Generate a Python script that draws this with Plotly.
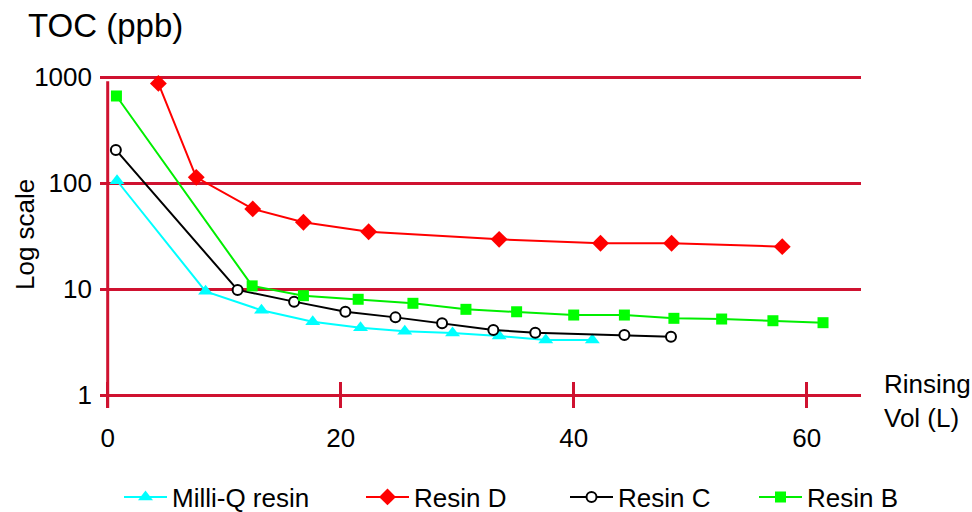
import plotly.graph_objects as go

# Rinsing volume (L) vs TOC (ppb) for each resin
milliq_x = [0.8, 8.4, 13.2, 17.6, 21.7, 25.5, 29.6, 33.6, 37.6, 41.6]
milliq_y = [105, 9.5, 6.3, 4.9, 4.3, 4.0, 3.85, 3.6, 3.3, 3.3]

resin_d_x = [4.35, 7.6, 12.45, 16.8, 22.4, 33.6, 42.3, 48.4, 57.9]
resin_d_y = [870, 113, 57, 42.6, 34.7, 29.4, 27.0, 27.0, 25.1]

resin_c_x = [0.7, 11.15, 16.0, 20.4, 24.7, 28.7, 33.1, 36.7, 44.35, 48.35]
resin_c_y = [205, 9.8, 7.6, 6.1, 5.4, 4.75, 4.1, 3.87, 3.68, 3.55]

resin_b_x = [0.75, 12.4, 16.8, 21.5, 26.2, 30.75, 35.1, 40.0, 44.35, 48.6, 52.7, 57.1, 61.4]
resin_b_y = [662, 10.7, 8.65, 8.0, 7.33, 6.43, 6.1, 5.68, 5.68, 5.29, 5.21, 5.02, 4.81]

x_ticks = [0, 20, 40, 60]
y_ticks = [1, 10, 100, 1000]
y_tick_text = ["1", "10", "100", "1000"]

AXIS_RED = "#cf1230"
FONT = "Liberation Sans, Arial, Helvetica, sans-serif"

fig = go.Figure()

fig.add_trace(go.Scatter(
    x=milliq_x, y=milliq_y, name="Milli-Q resin", mode="lines+markers",
    line=dict(color="#00ffff", width=2),
    marker=dict(symbol="triangle-up", size=13, color="#00ffff"),
    legend="legend",
))
fig.add_trace(go.Scatter(
    x=resin_d_x, y=resin_d_y, name="Resin D", mode="lines+markers",
    line=dict(color="#ff0000", width=2),
    marker=dict(symbol="diamond", size=13, color="#ff0000"),
    legend="legend2",
))
fig.add_trace(go.Scatter(
    x=resin_c_x, y=resin_c_y, name="Resin C", mode="lines+markers",
    line=dict(color="#000000", width=2),
    marker=dict(symbol="circle", size=10, color="#ffffff",
                line=dict(color="#000000", width=2)),
    legend="legend3",
))
fig.add_trace(go.Scatter(
    x=resin_b_x, y=resin_b_y, name="Resin B", mode="lines+markers",
    line=dict(color="#00ee00", width=2),
    marker=dict(symbol="square", size=11, color="#00ff00"),
    legend="legend4",
))

# vertical axis line
fig.add_shape(type="line", xref="x", yref="paper", x0=0, x1=0, y0=0, y1=0.967,
              line=dict(color=AXIS_RED, width=3), layer="below")

legend_common = dict(
    orientation="h", xref="container", yref="container",
    xanchor="left", yanchor="middle", y=1 - 497 / 512,
    font=dict(family=FONT, size=26, color="#000000"),
    bgcolor="rgba(0,0,0,0)", borderwidth=0, itemwidth=43,
)

fig.update_layout(
    width=972, height=512,
    margin=dict(l=100, r=111, t=70, b=104),
    paper_bgcolor="#ffffff", plot_bgcolor="#ffffff",
    font=dict(family=FONT, size=26, color="#000000"),
    title=dict(text="TOC (ppb)", font=dict(family=FONT, size=33, color="#000000"),
               xref="container", yref="container", x=28 / 972, xanchor="left",
               y=1 - 25 / 512, yanchor="middle"),
    xaxis=dict(
        range=[-0.661, 64.66], tickvals=x_ticks, ticks="inside", ticklen=26,
        tickwidth=3, tickcolor=AXIS_RED, showgrid=False, zeroline=False,
        showline=False, tickfont=dict(size=26), ticklabelstandoff=12,
    ),
    yaxis=dict(
        type="log", range=[-0.1226, 3.066], tickvals=y_ticks, ticktext=y_tick_text,
        showgrid=True, gridcolor=AXIS_RED, gridwidth=3, ticks="", zeroline=False,
        showline=False, tickfont=dict(size=26), ticklabelstandoff=7,
    ),
    legend=dict(legend_common, x=(122 - 3) / 972),
    legend2=dict(legend_common, x=(364 - 3) / 972),
    legend3=dict(legend_common, x=(568 - 3) / 972),
    legend4=dict(legend_common, x=(757 - 3) / 972),
    showlegend=True,
    annotations=[
        dict(text="Log scale", textangle=-90, xref="paper", yref="paper",
             x=(25 - 100) / 761, y=(408 - 235) / 338, xanchor="center",
             yanchor="middle", showarrow=False, font=dict(size=26)),
        dict(text="Rinsing<br>Vol (L)", xref="paper", yref="paper",
             x=(882 - 100) / 761, y=(408 - 401) / 338, xanchor="left",
             yanchor="middle", align="left", showarrow=False, font=dict(size=26)),
    ],
)

fig.write_html("out.html")
